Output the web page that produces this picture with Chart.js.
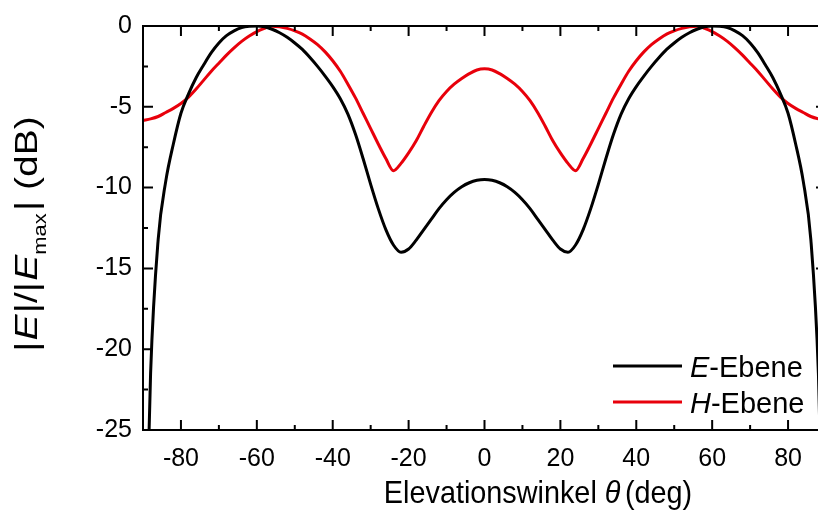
<!DOCTYPE html>
<html>
<head>
<meta charset="utf-8">
<script src="https://cdn.jsdelivr.net/npm/chart.js@4"></script>
<style>
  body { margin: 0; background: #fff; overflow: hidden; }
  #wrap { width: 818px; height: 530px; overflow: hidden; }
</style>
</head>
<body>
<div id="wrap"><canvas id="myChart" width="830" height="530"></canvas></div>
<script>
// elevation angle (deg), every 2 deg
const theta = [-90, -88, -86, -84, -82, -80, -78, -76, -74, -72, -70, -68, -66, -64, -62, -60, -58, -56, -54, -52, -50, -48, -46,
               -44, -42, -40, -38, -36, -34, -32, -30, -28, -26, -24, -22, -20, -18, -16, -14, -12, -10, -8, -6, -4, -2, 0,
               2, 4, 6, 8, 10, 12, 14, 16, 18, 20, 22, 24, 26, 28, 30, 32, 34, 36, 38, 40, 42, 44,
               46, 48, 50, 52, 54, 56, 58, 60, 62, 64, 66, 68, 70, 72, 74, 76, 78, 80, 82, 84, 86, 88, 90]

// |E|/|Emax| in dB
const ebeneE = [-40, -21.5, -13.2, -9.6, -7.3, -5.4, -4.2, -3.2, -2.4, -1.65, -1.05, -0.6, -0.3, -0.1, -0.02, 0, -0.05, -0.2, -0.42, -0.7, -1.05, -1.45, -1.95,
                -2.5, -3.1, -3.75, -4.5, -5.45, -6.7, -8.2, -9.8, -11.3, -12.6, -13.55, -14.0, -13.8, -13.25, -12.6, -11.95, -11.3, -10.75, -10.3, -9.95, -9.7, -9.55, -9.5,
                -9.55, -9.7, -9.95, -10.3, -10.75, -11.3, -11.95, -12.6, -13.25, -13.8, -14.0, -13.55, -12.6, -11.3, -9.8, -8.2, -6.7, -5.45, -4.5, -3.75, -3.1, -2.5,
                -1.95, -1.45, -1.05, -0.7, -0.42, -0.2, -0.05, 0, -0.02, -0.1, -0.3, -0.6, -1.05, -1.65, -2.4, -3.2, -4.2, -5.4, -7.3, -9.6, -13.2, -21.5, -40]

const ebeneH = [-5.85, -5.75, -5.6, -5.35, -5.1, -4.8, -4.4, -3.9, -3.35, -2.8, -2.3, -1.8, -1.35, -0.95, -0.62, -0.35, -0.15, -0.01, -0.05, -0.15, -0.3, -0.5, -0.8,
                -1.15, -1.6, -2.15, -2.8, -3.6, -4.45, -5.4, -6.35, -7.3, -8.2, -8.95, -8.5, -7.85, -7.1, -6.2, -5.35, -4.62, -4.05, -3.6, -3.25, -2.95, -2.72, -2.65,
                -2.72, -2.95, -3.25, -3.6, -4.05, -4.62, -5.35, -6.2, -7.1, -7.85, -8.5, -8.95, -8.2, -7.3, -6.35, -5.4, -4.45, -3.6, -2.8, -2.15, -1.6, -1.15,
                -0.8, -0.5, -0.3, -0.15, -0.05, -0.01, -0.15, -0.35, -0.62, -0.95, -1.35, -1.8, -2.3, -2.8, -3.35, -3.9, -4.4, -4.8, -5.1, -5.35, -5.6, -5.75, -5.85]

const xTicks = [-80, -60, -40, -20, 0, 20, 40, 60, 80]
const xMinor = [-90, -70, -50, -30, -10, 10, 30, 50, 70, 90]
const yTicks = [0, -5, -10, -15, -20, -25]
const yMinor = [-2.5, -7.5, -12.5, -17.5, -22.5]

const FONT = '"Liberation Sans", Arial, Helvetica, sans-serif'
const red = '#e8000b'

function toPoints(xs, ys) {
    return xs.map((x, i) => ({x: x, y: ys[i]}))
}

// pieces: {t, it (italic), sub (subscript), gap (extra space after)}
function partFont(p, size) {
    const s = p.sub ? Math.round(size * 0.55) : size
    return (p.it ? 'italic ' : '') + s + 'px ' + FONT
}
function richWidth(ctx, parts, size) {
    let w = 0
    parts.forEach(p => {
        ctx.font = partFont(p, size)
        w += ctx.measureText(p.t).width + (p.gap || 0)
    })
    return w
}
function drawRich(ctx, parts, x, y, size) {
    let cx = x
    parts.forEach(p => {
        ctx.font = partFont(p, size)
        ctx.fillText(p.t, cx, p.sub ? y + size * 0.28 : y)
        cx += ctx.measureText(p.t).width + (p.gap || 0)
    })
}

const framePlugin = {
    id: 'frame',
    afterDraw(chart) {
        const ctx = chart.ctx
        const a = chart.chartArea
        const xs = chart.scales.x, ys = chart.scales.y
        ctx.save()
        ctx.strokeStyle = '#000'
        ctx.lineWidth = 2
        ctx.strokeRect(a.left, a.top, a.right - a.left, a.bottom - a.top)

        ctx.beginPath()
        const tick = (vals, len) => {
            vals.forEach(v => {
                const px = xs.getPixelForValue(v)
                ctx.moveTo(px, a.bottom); ctx.lineTo(px, a.bottom - len)
                ctx.moveTo(px, a.top); ctx.lineTo(px, a.top + len)
            })
        }
        const ytick = (vals, len) => {
            vals.forEach(v => {
                const py = ys.getPixelForValue(v)
                ctx.moveTo(a.left, py); ctx.lineTo(a.left + len, py)
                ctx.moveTo(a.right, py); ctx.lineTo(a.right - len, py)
            })
        }
        tick(xTicks, 10); tick(xMinor, 5)
        ytick(yTicks, 10); ytick(yMinor, 5)
        ctx.stroke()

        ctx.fillStyle = '#000'
        ctx.textBaseline = 'alphabetic'
        ctx.textAlign = 'left'

        // x title (slightly condensed like the source figure)
        const xt = [{t: 'Elevationswinkel '}, {t: 'θ', it: true, gap: 5}, {t: '(deg)'}]
        const xw = richWidth(ctx, xt, 32)
        ctx.save()
        ctx.translate(538, 503)
        ctx.scale(0.9, 1)
        drawRich(ctx, xt, -xw / 2, 0, 32)
        ctx.restore()

        // y title, rotated and stretched along its length
        const yt = [{t: '|', gap: 1}, {t: 'E', it: true, gap: 1}, {t: '|/|', gap: 1},
                    {t: 'E', it: true}, {t: 'max', sub: true, gap: 2}, {t: '| (dB)'}]
        const yw = richWidth(ctx, yt, 32)
        ctx.save()
        ctx.translate(37, 234)
        ctx.rotate(-Math.PI / 2)
        ctx.scale(1.22, 1)
        drawRich(ctx, yt, -yw / 2, 0, 32)
        ctx.restore()

        // legend
        const leg = [
            {c: '#000', y: 366, parts: [{t: 'E', it: true}, {t: '-Ebene'}]},
            {c: red, y: 402, parts: [{t: 'H', it: true}, {t: '-Ebene'}]}
        ]
        leg.forEach(l => {
            ctx.strokeStyle = l.c
            ctx.lineWidth = 3
            ctx.beginPath()
            ctx.moveTo(613, l.y); ctx.lineTo(682, l.y)
            ctx.stroke()
            drawRich(ctx, l.parts, 690, l.y + 11, 29)
        })
        ctx.restore()
    }
}

const ctx = document.getElementById('myChart').getContext('2d')
const chart = new Chart(ctx, {
    type: 'scatter',
    data: {
        datasets: [
            {
                label: 'E-Ebene',
                data: toPoints(theta, ebeneE),
                showLine: true,
                borderColor: '#000',
                borderWidth: 3,
                pointRadius: 0,
                cubicInterpolationMode: 'monotone'
            },
            {
                label: 'H-Ebene',
                data: toPoints(theta, ebeneH),
                showLine: true,
                borderColor: red,
                borderWidth: 3,
                pointRadius: 0,
                cubicInterpolationMode: 'monotone'
            }
        ]
    },
    options: {
        responsive: false,
        animation: false,
        layout: {padding: {top: 18, right: 4, left: 0, bottom: 0}},
        plugins: {legend: {display: false}, tooltip: {enabled: false}},
        scales: {
            x: {
                type: 'linear', min: -90, max: 90,
                grid: {display: false, drawTicks: false},
                border: {display: false},
                ticks: {color: '#000', padding: 14, font: {family: FONT, size: 25}},
                afterBuildTicks: s => { s.ticks = xTicks.map(v => ({value: v})) },
                afterFit: s => { s.height = 100 }
            },
            y: {
                type: 'linear', min: -25, max: 0,
                grid: {display: false, drawTicks: false},
                border: {display: false},
                ticks: {color: '#000', padding: 11, font: {family: FONT, size: 25}},
                afterBuildTicks: s => { s.ticks = yTicks.map(v => ({value: v})) },
                afterFit: s => { s.width = 143 }
            }
        }
    },
    plugins: [framePlugin]
})
</script>
</body>
</html>
